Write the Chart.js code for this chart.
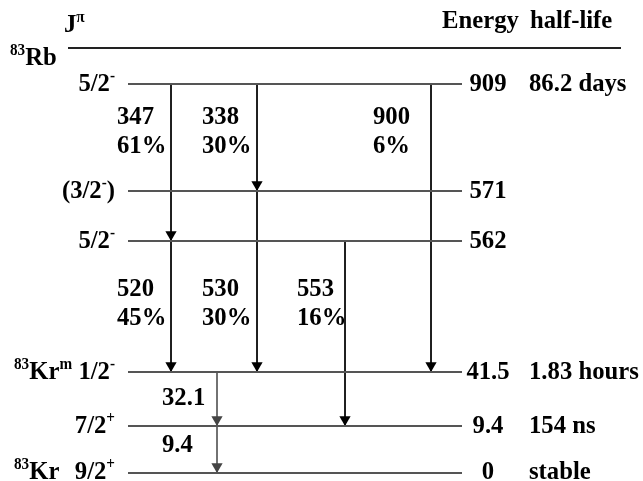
<!DOCTYPE html>
<html>
<head>
<meta charset="utf-8">
<script src="https://cdn.jsdelivr.net/npm/chart.js@4"></script>
<style>
  html, body { margin: 0; padding: 0; background: #fff; }
  #wrap { width: 643px; height: 481px; position: relative; }
</style>
</head>
<body>
<div id="wrap"><canvas id="scheme"></canvas></div>
<script>
// ===== DATA =====
// levels, top to bottom (83Rb parent, then 83Kr daughter levels)
const levelEnergy = ['909', '571', '562', '41.5', '9.4', '0'];
const levelSpin = ['5/2^{-}', '(3/2^{-})', '5/2^{-}', '1/2^{-}', '7/2^{+}', '9/2^{+}'];
const levelHalfLife = ['86.2 days', '', '', '1.83 hours', '154 ns', 'stable'];
const levelNuclide = ['', '', '', '^{83}Kr^{m}', '', '^{83}Kr'];
// schematic vertical row of each level (the scheme is not drawn to scale)
const levelRow = [84, 191, 241, 372, 426, 473];

// transitions
const gammaEnergy = ['347', '338', '900', '520', '530', '553', '32.1', '9.4'];
const gammaIntensity = ['61%', '30%', '6%', '45%', '30%', '16%', '', ''];
const gammaFrom = [0, 0, 0, 2, 1, 2, 3, 4];
const gammaTo = [2, 1, 3, 3, 3, 4, 4, 5];

// ===== LAYOUT =====
const W = 643, H = 481;
const LEVEL_X0 = 128, LEVEL_X1 = 462;
const gammaColumn = [171, 257, 431, 171, 257, 345, 217, 217];
const gammaLabelX = [117, 202, 373, 117, 202, 297, 162, 162];
const gammaLabelY = [117, 117, 117, 289, 289, 289, 398, 445];
const FONT = '"Liberation Serif", "DejaVu Serif", serif';
const SIZE = 26;
const SX = 0.95; // the original lettering is a bit condensed
const ARROW_R = 6.5;

const datasets = [];

// header rule
datasets.push({
  data: [{ x: 68, y: 48 }, { x: 621, y: 48 }],
  showLine: true, borderColor: '#222', borderWidth: 2, pointRadius: 0
});

levelRow.forEach((row) => {
  datasets.push({
    data: [{ x: LEVEL_X0, y: row }, { x: LEVEL_X1, y: row }],
    showLine: true, borderColor: '#555', borderWidth: 2, pointRadius: 0
  });
});

gammaEnergy.forEach((e, i) => {
  const x = gammaColumn[i];
  const y0 = levelRow[gammaFrom[i]];
  const y1 = levelRow[gammaTo[i]];
  const low = i >= 6;
  datasets.push({
    data: [{ x, y: y0 }, { x, y: y1 - ARROW_R }, { x, y: y1 }],
    showLine: true,
    borderColor: low ? '#444' : '#000',
    backgroundColor: low ? '#444' : '#000',
    borderWidth: low ? 1.5 : 1,
    pointStyle: 'triangle',
    rotation: 180,
    pointRadius: [0, ARROW_R, 0],
    pointBorderWidth: 0
  });
});

// ===== TEXT =====
function parseRich(str) {
  const parts = [];
  const re = /\^\{([^}]*)\}/g;
  let last = 0, m;
  while ((m = re.exec(str))) {
    if (m.index > last) parts.push({ t: str.slice(last, m.index), sup: false });
    parts.push({ t: m[1], sup: true });
    last = re.lastIndex;
  }
  if (last < str.length) parts.push({ t: str.slice(last), sup: false });
  return parts;
}

function drawRich(ctx, str, x, y, align, size) {
  const parts = parseRich(str);
  const supSize = Math.round(size * 0.6);
  const widths = parts.map(p => {
    ctx.font = `bold ${p.sup ? supSize : size}px ${FONT}`;
    return ctx.measureText(p.t).width * SX;
  });
  const total = widths.reduce((a, b) => a + b, 0);
  let cx = align === 'right' ? x - total : align === 'center' ? x - total / 2 : x;
  ctx.textBaseline = 'alphabetic';
  ctx.textAlign = 'left';
  parts.forEach((p, i) => {
    ctx.save();
    ctx.translate(cx, p.sup ? y - size * 0.38 : y);
    ctx.scale(SX, 1);
    ctx.font = `bold ${p.sup ? supSize : size}px ${FONT}`;
    ctx.fillText(p.t, 0, 0);
    ctx.restore();
    cx += widths[i];
  });
}

const textPlugin = {
  id: 'schemeText',
  afterDatasetsDraw(chart) {
    const { ctx, scales } = chart;
    const px = v => scales.x.getPixelForValue(v);
    const py = v => scales.y.getPixelForValue(v);
    const base = SIZE * 0.34 - 2; // baseline offset to center digits on a row
    ctx.save();
    ctx.fillStyle = '#000';

    // header
    drawRich(ctx, 'J^{π}', px(64), py(32), 'left', SIZE);
    drawRich(ctx, 'Energy', px(442), py(28), 'left', SIZE);
    drawRich(ctx, 'half-life', px(530), py(28), 'left', SIZE);
    drawRich(ctx, '^{83}Rb', px(10), py(65), 'left', SIZE);

    levelRow.forEach((row, i) => {
      const y = py(row) + base - (i === levelRow.length - 1 ? 1 : 0);
      drawRich(ctx, levelSpin[i], px(115), y, 'right', SIZE);
      if (levelNuclide[i]) drawRich(ctx, levelNuclide[i], px(14), y, 'left', SIZE);
      drawRich(ctx, levelEnergy[i], px(488), y, 'center', SIZE);
      if (levelHalfLife[i]) drawRich(ctx, levelHalfLife[i], px(529), y, 'left', SIZE);
    });

    gammaEnergy.forEach((e, i) => {
      const x = px(gammaLabelX[i]);
      const y = py(gammaLabelY[i]) + base;
      drawRich(ctx, e, x, y, 'left', SIZE);
      if (gammaIntensity[i]) drawRich(ctx, gammaIntensity[i], x, y + 29, 'left', SIZE);
    });
    ctx.restore();
  }
};

new Chart(document.getElementById('scheme'), {
  type: 'scatter',
  data: { datasets },
  options: {
    responsive: true,
    maintainAspectRatio: false,
    animation: false,
    layout: { padding: 0 },
    scales: {
      x: { type: 'linear', min: 0, max: W, display: false },
      y: { type: 'linear', min: 0, max: H, reverse: true, display: false }
    },
    plugins: { legend: { display: false }, tooltip: { enabled: false } }
  },
  plugins: [textPlugin]
});
</script>
</body>
</html>
